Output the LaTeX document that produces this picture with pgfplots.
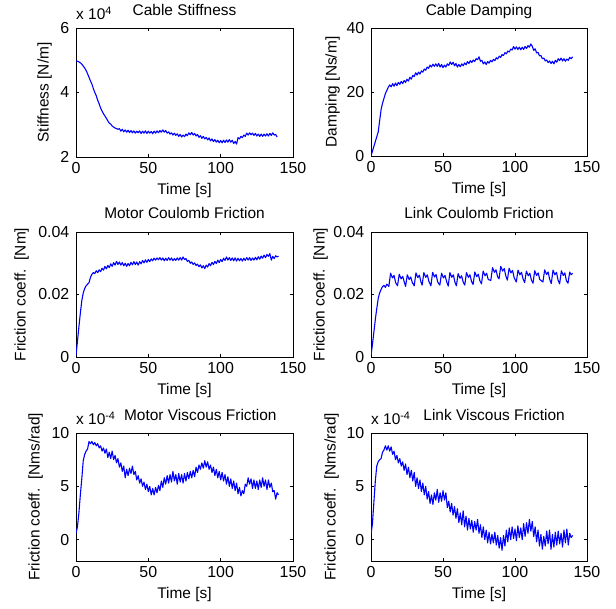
\documentclass[border=0pt]{standalone}
\usepackage{fontspec}
\setmainfont{Liberation Sans}
\usepackage{pgfplots}
\pgfplotsset{compat=1.18}
\definecolor{mblue}{RGB}{0,0,255}
\newcommand\ff{\fontsize{15.5}{18}\selectfont}
\newcommand\tf{\fontsize{16}{18}\selectfont}
\pgfplotsset{
  every axis title shift=0pt,
  mplot/.style={
    scale only axis, width=217bp,
    xmin=0, xmax=150, xtick={0,50,100,150},
    tick align=inside, xtick pos=both, ytick pos=both,
    major tick length=3bp,
    axis line style={black, line width=0.7bp},
    every tick/.style={black, line width=0.7bp},
    tick label style={font=\tf},
    label style={font=\ff},
    title style={font=\ff, anchor=base, inner sep=0pt},
    xticklabel style={inner sep=0pt, anchor=north, yshift=-5bp},
    yticklabel style={inner sep=0pt, anchor=east, xshift=-6.5bp},
    xlabel={Time [s]},
    xlabel style={at={([yshift=-26bp]axis description cs:0.5,0)}, anchor=north, inner sep=0pt},
    /pgf/number format/assume math mode=true,
    scaled ticks=false,
  },
  line/.style={mblue, line width=1.1bp, line join=round},
}
\begin{document}
\begin{tikzpicture}
\path[use as bounding box] (0,0) rectangle (616bp,609bp);
% ---------------- Cable Stiffness
\begin{axis}[mplot, name=a1, at={(76bp,581bp)}, anchor=north west, height=129bp,
  ymin=2, ymax=6, ytick={2,4,6},
  ylabel={Stiffness [N/m]},
  ylabel style={at={([xshift=-24bp]axis description cs:0,0.5)}, anchor=south, inner sep=0pt},
  title={Cable Stiffness}, title style={at={([yshift=12bp]axis description cs:0.5,1)}}]
\addplot[line] coordinates {(0,4.98)(1,4.97)(2,4.95)(3,4.92)(4,4.88)(5,4.82)(6,4.76)(7,4.68)(8,4.58)(9,4.47)(10,4.36)(11,4.26)(12,4.12)(13,4.00)(14,3.90)(15,3.76)(16,3.65)(17,3.52)(18,3.43)(19,3.34)(20,3.27)(21,3.20)(22,3.12)(23,3.05)(24,3.02)(25,2.96)(26,2.93)(27,2.90)(28,2.88)(29,2.86)
(30,2.88)(31,2.80)(32,2.86)(33,2.78)(34,2.84)(35,2.77)(36,2.83)(37,2.76)(38,2.82)(39,2.75)(40,2.81)(41,2.74)(42,2.80)(43,2.75)(44,2.81)(45,2.73)(46,2.80)(47,2.74)(48,2.81)(49,2.73)(50,2.80)(51,2.74)(52,2.79)(53,2.72)(54,2.80)(55,2.74)(56,2.81)(57,2.75)(58,2.82)(59,2.77)(60,2.84)(61,2.77)(62,2.82)(63,2.74)(64,2.78)(65,2.71)(66,2.75)(67,2.68)(68,2.74)(69,2.67)(70,2.72)(71,2.64)(72,2.70)(73,2.62)(74,2.68)(75,2.63)(76,2.71)(77,2.66)(78,2.75)(79,2.69)(80,2.76)(81,2.68)(82,2.73)(83,2.65)(84,2.70)(85,2.61)(86,2.66)(87,2.58)(88,2.64)(89,2.56)(90,2.61)(91,2.53)(92,2.59)(93,2.50)(94,2.56)(95,2.48)(96,2.54)(97,2.46)(98,2.52)(99,2.44)(100,2.51)(101,2.44)(102,2.52)(103,2.45)(104,2.53)(105,2.46)(106,2.54)(107,2.46)(108,2.52)(109,2.42)(110,2.48)(111,2.40)(112,2.60)(113,2.56)(114,2.64)(115,2.60)(116,2.68)(117,2.64)(118,2.74)(119,2.68)(120,2.75)(121,2.69)(122,2.74)(123,2.67)(124,2.73)(125,2.65)(126,2.71)(127,2.64)(128,2.71)(129,2.64)(130,2.71)(131,2.65)(132,2.72)(133,2.65)(134,2.73)(135,2.67)(136,2.75)(137,2.68)(138,2.70)(139,2.62)};
\end{axis}
\node[font=\ff, anchor=base west, inner sep=0pt] at ([yshift=8bp]a1.north west) {x 10\textsuperscript{4}};
% ---------------- Cable Damping
\begin{axis}[mplot, at={(371bp,581bp)}, anchor=north west, width=216bp, height=128bp,
  ymin=0, ymax=40, ytick={0,20,40},
  ylabel={Damping [Ns/m]},
  ylabel style={at={([xshift=-31bp]axis description cs:0,0.5)}, anchor=south, inner sep=0pt},
  title={Cable Damping}, title style={at={([yshift=12bp]axis description cs:0.5,1)}}]
\addplot[line] coordinates {(0,0)(1,1.5)(2,3)(3,4.5)(4,6)(5,7.5)(6,11)(7,14.5)(8,16.5)(9,18)(10,19.5)(11,20.5)(12,21.5)(13,22.2)(14,21.6)(15,22.6)(16,21.8)(17,22.8)(18,22.0)(19,23.0)(20,22.4)(21,23.3)(22,22.6)(23,23.6)(24,23.0)(25,24.0)(26,23.4)(27,24.6)(28,24.0)(29,25.2)(30,24.8)(31,26.0)(32,25.3)(33,26.2)(34,25.6)(35,26.6)(36,26.2)(37,27.2)(38,26.8)(39,27.8)(40,27.4)(41,28.4)(42,27.8)(43,28.7)(44,28.0)(45,28.8)(46,28.0)(47,28.9)(48,27.8)(49,28.6)(50,27.6)(51,28.4)(52,27.8)(53,28.8)(54,28.3)(55,29.4)(56,28.6)(57,29.3)(58,28.2)(59,28.9)(60,27.8)(61,28.6)(62,27.9)(63,28.8)(64,28.2)(65,29.1)(66,28.5)(67,29.5)(68,28.9)(69,29.8)(70,29.2)(71,30.0)(72,29.5)(73,30.4)(74,30.1)(75,31.0)(76,29.6)(77,29.9)(78,28.8)(79,29.4)(80,28.6)(81,29.5)(82,29.0)(83,29.9)(84,29.4)(85,30.2)(86,29.8)(87,30.7)(88,30.3)(89,31.2)(90,30.8)(91,31.7)(92,31.4)(93,32.3)(94,31.9)(95,32.8)(96,32.5)(97,33.4)(98,33.1)(99,34.2)(100,33.4)(101,34.1)(102,33.3)(103,34.0)(104,33.2)(105,34.0)(106,33.3)(107,34.2)(108,33.6)(109,34.5)(110,34.0)(111,35.0)(112,34.3)(113,33.0)(114,33.5)(115,32.2)(116,32.4)(117,31.3)(118,31.4)(119,30.4)(120,30.6)(121,29.7)(122,30.0)(123,29.2)(124,29.7)(125,28.9)(126,29.6)(127,28.8)(128,29.9)(129,29.3)(130,30.4)(131,29.8)(132,30.6)(133,29.7)(134,30.4)(135,29.6)(136,30.3)(137,29.9)(138,30.8)(139,30.4)(140,31.0)};
\end{axis}
% ---------------- Motor Coulomb Friction (values x 1e-3)
\begin{axis}[mplot, at={(76bp,377bp)}, anchor=north west, height=125bp,
  ymin=0, ymax=40, ytick={0,20,40}, yticklabels={0,0.02,0.04},
  ylabel={Friction coeff.\ \ [Nm]},
  ylabel style={at={([xshift=-47bp]axis description cs:0,0.5)}, anchor=south, inner sep=0pt},
  title={Motor Coulomb Friction}, title style={at={([yshift=13bp]axis description cs:0.5,1)}}]
\addplot[line] coordinates {(0,0.5)(1,5)(2,9.6)(3,14)(4,18)(5,20.5)(6,21.9)(7,22.8)(8,23.3)(9,23.8)(10,25.5)(11,26.5)(12,27.0)(13,26.7)(14,27.6)(15,27.0)(16,27.9)(17,27.3)(18,28.4)(19,27.8)(20,29.0)(21,28.2)(22,29.3)(23,28.6)(24,29.8)(25,29.0)(26,30.2)(27,29.4)(28,30.6)(29,29.6)(30,30.4)(31,29.4)(32,30.2)(33,29.2)(34,30.0)(35,29.0)(36,29.9)(37,29.2)(38,30.3)(39,29.5)(40,30.5)(41,29.6)(42,30.4)(43,29.4)(44,30.5)(45,29.8)(46,30.9)(47,30.1)(48,31.1)(49,30.3)(50,31.2)(51,30.5)(52,31.4)(53,30.8)(54,31.6)(55,31.0)(56,31.7)(57,31.1)(58,31.8)(59,31.0)(60,31.7)(61,30.8)(62,31.6)(63,30.9)(64,31.8)(65,31.0)(66,31.7)(67,30.8)(68,31.5)(69,30.9)(70,31.7)(71,31.0)(72,31.8)(73,31.0)(74,32.0)(75,31.2)(76,31.5)(77,30.6)(78,30.9)(79,30.0)(80,30.4)(81,29.6)(82,30.1)(83,29.3)(84,29.7)(85,28.9)(86,29.5)(87,28.5)(88,29.2)(89,28.3)(90,29.4)(91,28.8)(92,29.9)(93,29.2)(94,30.3)(95,29.6)(96,30.6)(97,29.9)(98,31.0)(99,30.2)(100,31.2)(101,30.5)(102,31.6)(103,30.9)(104,32.0)(105,31.0)(106,31.8)(107,30.9)(108,31.7)(109,30.8)(110,31.7)(111,30.7)(112,31.6)(113,30.8)(114,31.5)(115,30.7)(116,31.6)(117,30.9)(118,31.8)(119,31.0)(120,31.8)(121,30.9)(122,31.7)(123,31.0)(124,31.9)(125,31.1)(126,32.1)(127,31.3)(128,32.3)(129,31.6)(130,32.6)(131,31.8)(132,32.8)(133,32.2)(134,33.1)(135,31.0)(136,32.2)(137,31.5)(138,32.4)(139,32.0)(140,32.3)};
\end{axis}
% ---------------- Link Coulomb Friction (values x 1e-3)
\begin{axis}[mplot, at={(371bp,377bp)}, anchor=north west, width=216bp, height=125bp,
  ymin=0, ymax=40, ytick={0,20,40}, yticklabels={0,0.02,0.04},
  ylabel={Friction coeff.\ \ [Nm]},
  ylabel style={at={([xshift=-43bp]axis description cs:0,0.5)}, anchor=south, inner sep=0pt},
  title={Link Coulomb Friction}, title style={at={([yshift=13bp]axis description cs:0.5,1)}}]
\addplot[line] coordinates {(0,0.5)(1,4)(2,8)(3,12)(4,15.5)(5,18.7)(6,20.5)(7,21.6)(8,22.5)(9,22.9)(10,22.3)(11,23.3)
(12.4,22.6)(13.6,26.8)(14.9,25.3)(16.0,26.1)(17.1,23.8)
(18.4,22.8)(19.6,26.5)(20.9,25.0)(22.0,25.8)(23.1,24.0)
(24.0,22.6)(25.2,26.3)(26.5,24.8)(27.6,25.6)(28.7,23.8)
(30.0,22.8)(31.2,26.9)(32.5,25.4)(33.6,26.2)(34.7,24.0)
(35.5,23.0)(36.7,27.0)(38.0,25.5)(39.1,26.3)(40.2,24.2)
(41.6,22.8)(42.8,27.1)(44.1,25.6)(45.2,26.4)(46.3,24.0)
(47.8,23.0)(49.0,26.8)(50.3,25.3)(51.4,26.1)(52.5,24.2)
(53.6,22.7)(54.8,27.0)(56.1,25.5)(57.2,26.3)(58.3,23.9)
(59.3,22.8)(60.5,26.7)(61.8,25.2)(62.9,26.0)(64.0,24.0)
(65.1,23.0)(66.3,27.0)(67.6,25.5)(68.7,26.3)(69.8,24.2)
(70.9,23.2)(72.1,27.2)(73.4,25.7)(74.5,26.5)(75.6,24.4)
(76.7,23.4)(77.9,27.5)(79.2,26.0)(80.3,26.8)(81.4,24.8)
(83.2,24.5)(84.4,28.6)(85.7,27.1)(86.8,27.9)(87.9,25.7)
(88.9,25.0)(90.1,29.0)(91.4,27.5)(92.5,28.3)(93.6,26.0)
(94.7,24.6)(95.9,28.4)(97.2,26.9)(98.3,27.7)(99.4,25.4)
(100.9,24.0)(102.1,27.8)(103.4,26.3)(104.5,27.1)(105.6,25.0)
(106.7,23.8)(107.9,27.5)(109.2,26.0)(110.3,26.8)(111.4,24.6)
(112.5,23.6)(113.7,27.6)(115.0,26.1)(116.1,26.9)(117.2,24.8)
(119.4,24.0)(120.6,27.9)(121.9,26.4)(123.0,27.2)(124.1,24.8)
(125.2,23.5)(126.4,27.8)(127.7,26.3)(128.8,27.1)(129.9,24.6)
(131.0,23.4)(132.2,27.6)(133.5,26.1)(134.6,26.9)(135.7,24.4)
(136.8,23.6)(138.0,27.2)(139.0,26.3)(140,26.8)};
\end{axis}
% ---------------- Motor Viscous Friction (x 1e-4)
\begin{axis}[mplot, name=a5, at={(76bp,176bp)}, anchor=north west, height=128bp,
  ymin=-2, ymax=10, ytick={0,5,10},
  ylabel={Friction coeff.\ \ [Nms/rad]},
  ylabel style={at={([xshift=-33bp]axis description cs:0,0.5)}, anchor=south, inner sep=0pt},
  title={Motor Viscous Friction}, title style={at={([yshift=12bp]axis description cs:0.573,1)}}]
\addplot[line] coordinates {(0,0.6)(1,1.2)(2,2.5)(3,4.2)(4,5.7)(5,7.4)(6,8.0)(7,8.3)(8,8.5)(9,9.2)(10,9.0)(11,9.2)(12,8.9)(13,9.1)(14,8.8)(15,9.0)(16,8.6)(17,8.8)(18,8.3)(19,8.6)(20,8.1)(21,8.5)(22,7.7)(23,8.2)(24,7.6)(25,8.3)(26,7.5)(27,7.9)(28,7.2)(29,7.6)(30,6.8)(31,7.2)(32,6.4)(33,6.9)(34,5.8)(35,6.6)(36,6.0)(37,6.7)(38,6.2)(39,6.9)(40,6.1)(41,6.4)(42,5.6)(43,6.0)(44,5.3)(45,5.7)(46,5.0)(47,5.4)(48,4.7)(49,5.2)(50,4.5)(51,5.0)(52,4.2)(53,4.8)(54,4.2)(55,4.9)(56,4.4)(57,5.1)(58,4.6)(59,5.5)(60,4.9)(61,5.8)(62,5.2)(63,6.0)(64,5.3)(65,6.1)(66,5.4)(67,6.4)(68,5.5)(69,6.1)(70,5.2)(71,6.2)(72,5.4)(73,6.1)(74,5.3)(75,6.2)(76,5.5)(77,6.3)(78,5.7)(79,6.4)(80,5.8)(81,6.5)(82,5.9)(83,6.8)(84,6.3)(85,7.0)(86,6.6)(87,7.2)(88,6.7)(89,7.4)(90,6.8)(91,7.3)(92,6.6)(93,7.0)(94,6.3)(95,6.8)(96,6.0)(97,6.6)(98,5.8)(99,6.4)(100,5.6)(101,6.3)(102,5.5)(103,6.1)(104,5.2)(105,5.9)(106,5.0)(107,5.7)(108,4.8)(109,5.5)(110,4.6)(111,5.3)(112,4.3)(113,4.9)(114,4.1)(115,4.6)(116,4.3)(117,5.2)(118,5.0)(119,5.8)(120,5.2)(121,5.7)(122,4.8)(123,5.6)(124,4.8)(125,5.5)(126,4.7)(127,5.6)(128,4.9)(129,5.8)(130,5.0)(131,5.6)(132,4.7)(133,5.6)(134,4.9)(135,5.3)(136,4.5)(137,4.6)(138,3.8)(139,4.4)(140,4.2)};
\end{axis}
\node[font=\ff, anchor=base west, inner sep=0pt] at ([yshift=8bp]a5.north west) {x 10\textsuperscript{-4}};
% ---------------- Link Viscous Friction (x 1e-4)
\begin{axis}[mplot, name=a6, at={(371bp,176bp)}, anchor=north west, width=216bp, height=128bp,
  ymin=-2, ymax=10, ytick={0,5,10},
  ylabel={Friction coeff.\ \ [Nms/rad]},
  ylabel style={at={([xshift=-32bp]axis description cs:0,0.5)}, anchor=south, inner sep=0pt},
  title={Link Viscous Friction}, title style={at={([yshift=12bp]axis description cs:0.57,1)}}]
\addplot[line] coordinates {(0,0.5)(1,1.5)(2,3.5)(3,5.5)(4,6.9)(5,7.3)(6,7.5)(7,7.6)(8,8.2)(9,8.4)(10,8.8)(11,8.4)(12,8.8)(13,8.3)(14,8.7)(15,8.0)(16,8.3)(17,7.5)(18,7.9)(19,7.2)(20,7.6)(21,6.9)(22,7.3)(23,6.5)(24,7.1)(25,6.1)(26,6.8)(27,5.8)(28,6.5)(29,5.5)(30,6.3)(31,5.0)(32,5.8)(33,4.8)(34,5.6)(35,4.5)(36,5.3)(37,4.2)(38,5.0)(39,3.8)(40,4.5)(41,3.4)(42,4.2)(43,3.3)(44,4.4)(45,3.7)(46,4.7)(47,3.5)(48,4.4)(49,3.6)(50,4.6)(51,3.7)(52,4.4)(53,3.0)(54,3.6)(55,2.6)(56,3.4)(57,2.3)(58,3.1)(59,2.0)(60,2.9)(61,1.6)(62,2.5)(63,1.4)(64,2.7)(65,1.2)(66,2.2)(67,0.9)(68,2.0)(69,1.0)(70,1.8)(71,0.7)(72,1.7)(73,0.9)(74,1.9)(75,0.6)(76,1.4)(77,0.2)(78,1.2)(79,0.0)(80,0.9)(81,-0.3)(82,0.7)(83,-0.4)(84,0.5)(85,-0.3)(86,0.7)(87,-0.5)(88,0.4)(89,-0.8)(90,0.2)(91,-1.0)(92,0.4)(93,-0.6)(94,0.9)(95,-0.2)(96,1.1)(97,0.0)(98,1.2)(99,0.1)(100,1.0)(101,-0.1)(102,1.3)(103,0.2)(104,1.1)(105,0.0)(106,1.5)(107,0.3)(108,1.6)(109,0.6)(110,1.9)(111,0.8)(112,1.7)(113,0.3)(114,1.2)(115,-0.2)(116,0.9)(117,-0.6)(118,0.5)(119,-0.9)(120,0.3)(121,-0.6)(122,0.8)(123,-0.4)(124,0.9)(125,-0.9)(126,0.5)(127,-0.7)(128,0.7)(129,-0.5)(130,0.8)(131,-0.4)(132,0.6)(133,-0.7)(134,0.9)(135,-0.3)(136,1.0)(137,-0.5)(138,0.6)(139,0.2)(140,0.4)};
\end{axis}
\node[font=\ff, anchor=base west, inner sep=0pt] at ([yshift=8bp]a6.north west) {x 10\textsuperscript{-4}};
\end{tikzpicture}
\end{document}
